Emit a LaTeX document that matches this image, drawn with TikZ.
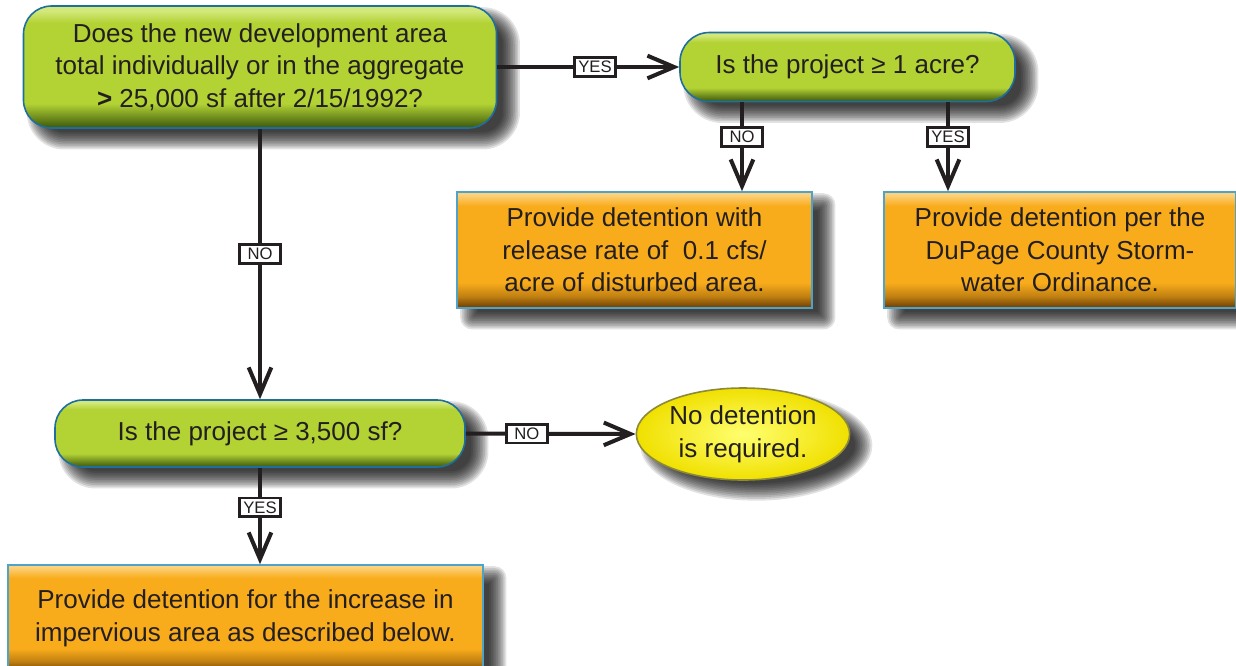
\documentclass[tikz,border=0pt]{standalone}
\usepackage{fontspec}
\setmainfont{Liberation Sans}
\usetikzlibrary{shapes.geometric,arrows.meta}
\definecolor{txt}{HTML}{231F20}
\definecolor{gmain}{HTML}{B3D234}
\definecolor{glight}{HTML}{D2E87A}
\definecolor{gdark}{HTML}{3A560C}
\definecolor{gborder}{HTML}{1F6F9E}
\definecolor{omain}{HTML}{F9AC1B}
\definecolor{olight}{HTML}{FCD27E}
\definecolor{odark}{HTML}{6A3C03}
\definecolor{oborder}{HTML}{4FA3C8}
\definecolor{ylight}{HTML}{FFFF70}
\definecolor{ydark}{HTML}{F0E000}
\definecolor{yborder}{HTML}{8C8A3A}
\pgfdeclareverticalshading{greenbtn}{100bp}{color(0bp)=(gdark); color(25bp)=(gdark); color(30bp)=(gdark!50!gmain); color(35bp)=(gmain); color(68bp)=(gmain); color(73bp)=(glight); color(75bp)=(glight); color(100bp)=(glight)}
\pgfdeclareverticalshading{orangebtn}{100bp}{color(0bp)=(odark); color(25bp)=(odark); color(30bp)=(omain!60!odark); color(36bp)=(omain); color(69bp)=(omain); color(74bp)=(olight); color(100bp)=(olight)}
\pgfdeclarelayer{bg}
\pgfsetlayers{bg,main}
\newcommand\rectshadow[2]{%
  \foreach \k in {0,...,10}{%
    \pgfmathsetmacro\e{-6+1.3*\k}%
    \pgfmathsetmacro\rr{max(#2+\e,0.5)}%
    \pgfmathsetmacro\xa{10-\e}\pgfmathsetmacro\ya{-8.5-\e}%
    \pgfmathsetmacro\xb{10+\e}\pgfmathsetmacro\yb{-8.5+\e}%
    \fill[black, opacity=0.115, rounded corners=\rr pt] ([shift={(\xa pt,\ya pt)}]#1.south west) rectangle ([shift={(\xb pt,\yb pt)}]#1.north east);}}
\newcommand\ellshadow[3]{%
  \foreach \k in {0,...,10}{%
    \pgfmathsetmacro\e{-6+1.3*\k}%
    \pgfmathsetmacro\rx{#2+\e}\pgfmathsetmacro\ry{#3+\e}%
    \fill[black, opacity=0.115] ([shift={(10pt,-8.5pt)}]#1.center) ellipse [x radius=\rx pt, y radius=\ry pt];}}
\tikzset{
  boxtext/.style={align=center, font=\fontsize{19.5}{24.5}\selectfont, text=txt, inner sep=0pt},
  gbox/.style={boxtext, rounded corners=21pt, draw=gborder, line width=1.2pt, shading=greenbtn},
  obox/.style={boxtext, draw=oborder, line width=1.2pt, shading=orangebtn},
  ybox/.style={boxtext, ellipse, draw=yborder, line width=1.2pt, shading=radial, inner color=ylight, outer color=ydark},
  arr/.style={draw=txt, line width=3pt, -{Straight Barb[length=20pt,width=17pt]}},
  lbl/.style={draw=txt, fill=white, line width=2.2pt, inner sep=0pt, minimum width=31pt, minimum height=14pt, font=\fontsize{12.5}{12.5}\selectfont, text=txt}
}
\begin{document}
\begin{tikzpicture}[x=0.75pt,y=-0.75pt]
\useasboundingbox (0,0) rectangle (1236,665);
\node[gbox, minimum width=354.75pt, minimum height=91.5pt] (q1) at (260,67) {Does the new development area\\ total individually or in the aggregate\\ \textbf{>} 25,000 sf after 2/15/1992?};
\node[gbox, rounded corners=22pt, minimum width=251.25pt, minimum height=51.75pt] (q2) at (847.5,67) {Is the project ≥ 1 acre?};
\node[obox, minimum width=266.25pt, minimum height=87pt] (a1) at (634.5,250) {Provide detention with\\ release rate of\ \ 0.1 cfs/\\ acre of disturbed area.};
\node[obox, minimum width=264pt, minimum height=87pt] (a2) at (1060,250) {Provide detention per the\\ DuPage County Storm-\\ water Ordinance.};
\node[gbox, minimum width=307.5pt, minimum height=50.25pt] (q3) at (260,433.5) {Is the project ≥ 3,500 sf?};
\node[ybox, minimum width=160pt, minimum height=69pt] (a3) at (743,434) {No detention\\ is required.};
\node[obox, minimum width=356.25pt, minimum height=80.25pt] (a4) at (245.5,618.5) {Provide detention for the increase in\\ impervious area as described below.};
\begin{pgfonlayer}{bg}
\fill[white] (0,0) rectangle (1236,665);
\rectshadow{q1}{21}
\rectshadow{q2}{22}
\rectshadow{q3}{21}
\rectshadow{a1}{2}
\rectshadow{a2}{2}
\rectshadow{a4}{2}
\ellshadow{a3}{80}{34.5}
\end{pgfonlayer}
\draw[arr] (q1.east) -- node[lbl, pos=0.537]{YES} (q2.west);
\draw[arr] ([xshift=-79.125pt]q2.south) -- node[lbl, pos=0.39]{NO} ([xshift=-79.125pt]q2.south |- a1.north);
\draw[arr] ([xshift=75.375pt]q2.south) -- node[lbl, pos=0.39]{YES} ([xshift=75.375pt]q2.south |- a2.north);
\draw[arr] (q1.south) -- node[lbl, pos=0.463]{NO} (q3.north);
\draw[arr] (q3.east) -- node[lbl, pos=0.36]{NO} (a3.west);
\draw[arr] (q3.south) -- node[lbl, pos=0.41]{YES} (q3.south |- a4.north);
\end{tikzpicture}
\end{document}
